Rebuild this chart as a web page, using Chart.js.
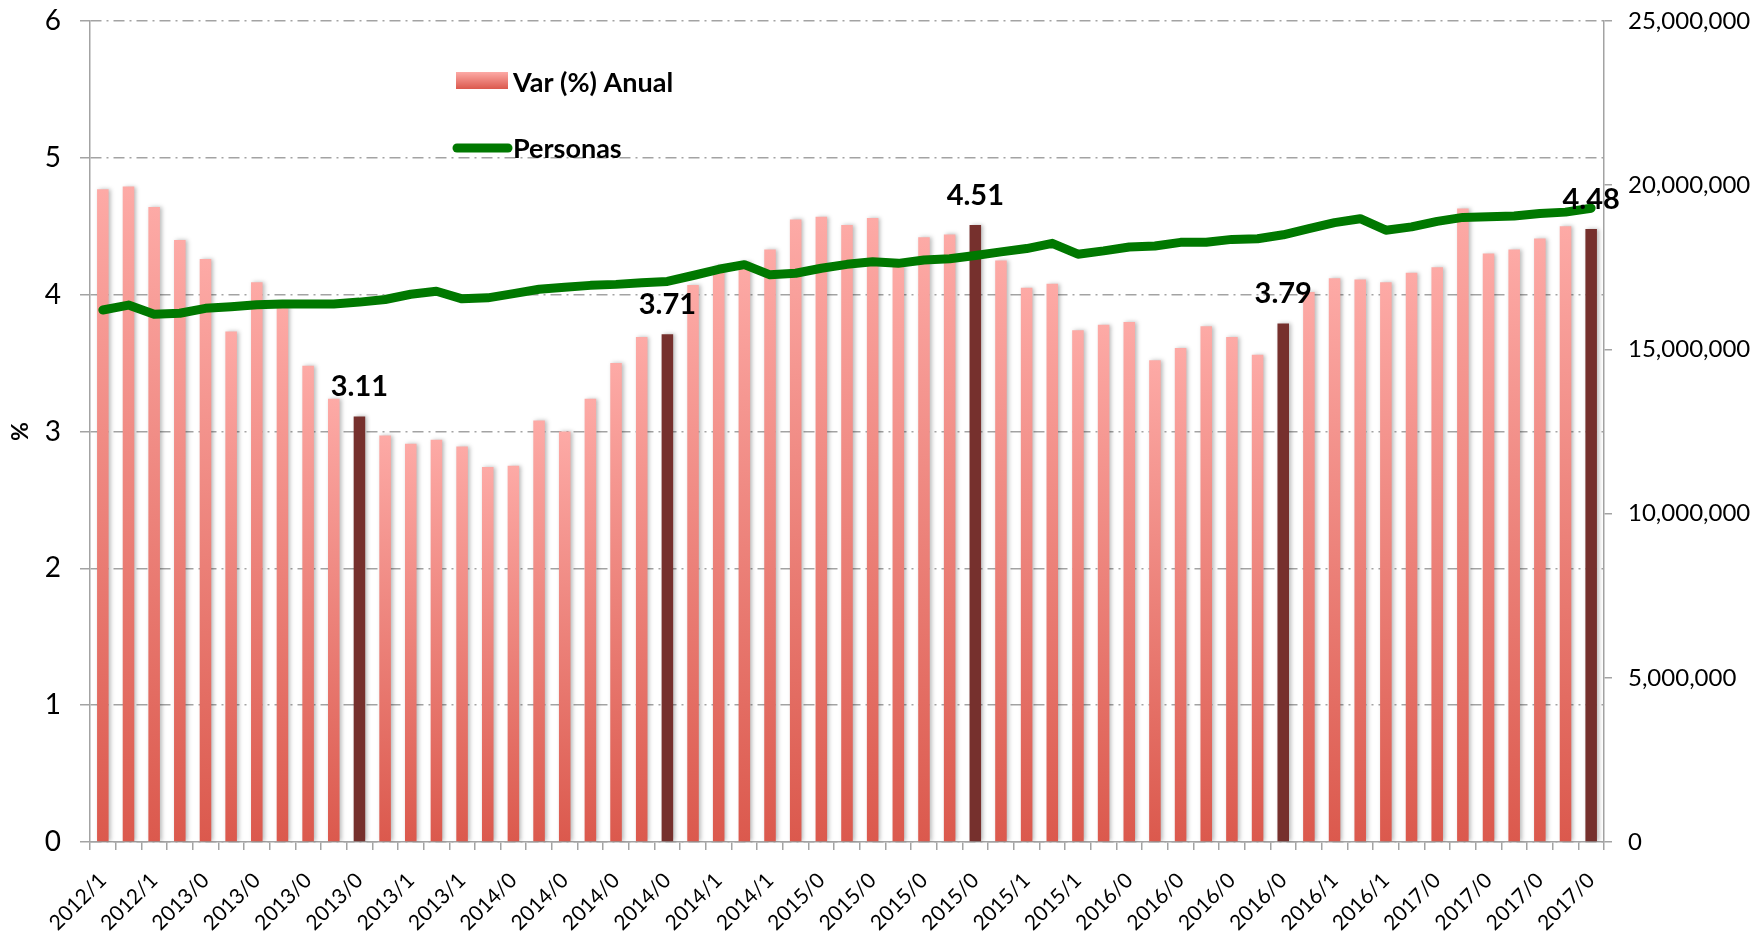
<!DOCTYPE html>
<html>
<head>
<meta charset="utf-8">
<script src="https://cdn.jsdelivr.net/npm/chart.js@4"></script>
<style>
  html, body { margin: 0; padding: 0; background: #ffffff; }
  #wrap { width: 1756px; height: 936px; position: relative; }
</style>
</head>
<body>
<div id="wrap"><canvas id="c"></canvas></div>
<script>
// ---- Data ----
const categories = [
  "2012/10","2012/11","2012/12",
  "2013/01","2013/02","2013/03","2013/04","2013/05","2013/06","2013/07","2013/08","2013/09","2013/10","2013/11","2013/12",
  "2014/01","2014/02","2014/03","2014/04","2014/05","2014/06","2014/07","2014/08","2014/09","2014/10","2014/11","2014/12",
  "2015/01","2015/02","2015/03","2015/04","2015/05","2015/06","2015/07","2015/08","2015/09","2015/10","2015/11","2015/12",
  "2016/01","2016/02","2016/03","2016/04","2016/05","2016/06","2016/07","2016/08","2016/09","2016/10","2016/11","2016/12",
  "2017/01","2017/02","2017/03","2017/04","2017/05","2017/06","2017/07","2017/08"
];
const varAnual = [
  4.77, 4.79, 4.64,
  4.40, 4.26, 3.73, 4.09, 3.92, 3.48, 3.24, 3.11, 2.97, 2.91, 2.94, 2.89,
  2.74, 2.75, 3.08, 3.00, 3.24, 3.50, 3.69, 3.71, 4.07, 4.21, 4.24, 4.33,
  4.55, 4.57, 4.51, 4.56, 4.22, 4.42, 4.44, 4.51, 4.25, 4.05, 4.08, 3.74,
  3.78, 3.80, 3.52, 3.61, 3.77, 3.69, 3.56, 3.79, 4.02, 4.12, 4.11, 4.09,
  4.16, 4.20, 4.63, 4.30, 4.33, 4.41, 4.50, 4.48
];
const personas = [
  16200000, 16350000, 16070000,
  16100000, 16250000, 16300000, 16360000, 16380000, 16380000, 16380000, 16440000, 16520000, 16680000, 16770000, 16540000,
  16570000, 16700000, 16830000, 16890000, 16950000, 16980000, 17030000, 17070000, 17250000, 17440000, 17580000, 17270000,
  17320000, 17470000, 17590000, 17670000, 17620000, 17720000, 17760000, 17860000, 17970000, 18070000, 18230000, 17900000,
  18000000, 18120000, 18150000, 18260000, 18260000, 18350000, 18370000, 18490000, 18680000, 18860000, 18980000, 18630000,
  18730000, 18900000, 19020000, 19040000, 19060000, 19140000, 19180000, 19300000
];
const leftTicks = [0, 1, 2, 3, 4, 5, 6];
const rightTicks = [0, 5000000, 10000000, 15000000, 20000000, 25000000];
const highlightMonth = "/08";   // bars shown dark and labelled

// ---- Styles ----
const FONT = "Lato, 'Open Sans', sans-serif";
const PINK_TOP = "#FDAAA6";
const PINK_BOTTOM = "#DB594D";
const DARK = "#76302D";
const GREEN = "#007800";
const GRID = "#A3A3A3";

const isHighlight = (i) => categories[i] && categories[i].endsWith(highlightMonth);

function barFill(ctx) {
  const chart = ctx.chart;
  const i = ctx.dataIndex;
  if (i !== undefined && isHighlight(i)) return DARK;
  if (!chart.chartArea || i === undefined) return PINK_BOTTOM;
  const ys = chart.scales.y;
  const top = ys.getPixelForValue(varAnual[i]);
  const bottom = ys.getPixelForValue(0);
  const g = chart.ctx.createLinearGradient(0, top, 0, bottom);
  g.addColorStop(0, PINK_TOP);
  g.addColorStop(1, PINK_BOTTOM);
  return g;
}

const barShadow = {
  id: 'barShadow',
  beforeDatasetDraw(chart, args) {
    if (chart.data.datasets[args.index].type !== 'bar') return;
    const c = chart.ctx;
    c.save();
    c.shadowColor = 'rgba(0,0,0,0.28)';
    c.shadowBlur = 4;
    c.shadowOffsetX = 2;
    c.shadowOffsetY = 0;
  },
  afterDatasetDraw(chart, args) {
    if (chart.data.datasets[args.index].type !== 'bar') return;
    chart.ctx.restore();
  }
};

const valueLabels = {
  id: 'valueLabels',
  afterDatasetsDraw(chart) {
    const idx = chart.data.datasets.findIndex(d => d.type === 'bar');
    const meta = chart.getDatasetMeta(idx);
    const c = chart.ctx;
    c.save();
    c.font = "bold 29px " + FONT;
    c.fillStyle = "#000";
    c.textAlign = "center";
    c.textBaseline = "alphabetic";
    meta.data.forEach((bar, i) => {
      if (!isHighlight(i)) return;
      c.fillText(varAnual[i].toFixed(2), bar.x, bar.y - 20);
    });
    c.restore();
  }
};

const insideLegend = {
  id: 'insideLegend',
  afterDraw(chart) {
    const a = chart.chartArea;
    const c = chart.ctx;
    c.save();
    // bar swatch
    const rx = a.left + 366, ry = a.top + 51, rw = 52, rh = 17;
    const g = c.createLinearGradient(0, ry, 0, ry + rh);
    g.addColorStop(0, PINK_TOP);
    g.addColorStop(1, PINK_BOTTOM);
    c.fillStyle = g;
    c.fillRect(rx, ry, rw, rh);
    // line swatch
    c.strokeStyle = GREEN;
    c.lineWidth = 9;
    c.lineCap = 'round';
    c.beginPath();
    c.moveTo(a.left + 367, a.top + 127);
    c.lineTo(a.left + 418, a.top + 127);
    c.stroke();
    // texts
    c.font = "bold 27px " + FONT;
    c.fillStyle = "#000";
    c.textAlign = "left";
    c.textBaseline = "middle";
    c.fillText(chart.data.datasets[1].label, a.left + 423, a.top + 62);
    c.fillText(chart.data.datasets[0].label, a.left + 423, a.top + 128);
    c.restore();
  }
};

new Chart(document.getElementById('c'), {
  data: {
    labels: categories,
    datasets: [
      {
        type: 'line',
        label: 'Personas',
        data: personas,
        yAxisID: 'y1',
        borderColor: GREEN,
        backgroundColor: GREEN,
        borderWidth: 9,
        pointRadius: 0,
        tension: 0,
        borderCapStyle: 'round',
        borderJoinStyle: 'round',
        order: 0
      },
      {
        type: 'bar',
        label: 'Var (%) Anual',
        data: varAnual,
        yAxisID: 'y',
        backgroundColor: barFill,
        borderWidth: 0,
        barPercentage: 0.45,
        categoryPercentage: 1.0,
        order: 1
      }
    ]
  },
  options: {
    responsive: true,
    maintainAspectRatio: false,
    animation: false,
    layout: { padding: { top: 21, left: 0, right: 0, bottom: 0 } },
    plugins: { legend: { display: false }, tooltip: { enabled: false } },
    scales: {
      x: {
        type: 'category',
        offset: true,
        grid: { offset: true, drawOnChartArea: false, drawTicks: true, tickLength: 8, color: GRID, lineWidth: 1.5 },
        border: { display: true, color: GRID, width: 1.5 },
        ticks: {
          autoSkip: false, maxRotation: 45, minRotation: 45, padding: 18,
          color: '#000', font: { family: FONT, size: 21 },
          callback: (v, i) => (i % 2 === 0 ? categories[i].slice(0, 6) : '')
        },
        afterFit: (s) => { s.height = 94; s.paddingLeft = 0; s.paddingRight = 0; }
      },
      y: {
        position: 'left',
        min: 0, max: 6,
        afterBuildTicks: (s) => { s.ticks = leftTicks.map(v => ({ value: v })); },
        grid: { color: GRID, lineWidth: 1.5, drawTicks: true, tickLength: 10, tickBorderDash: [] , tickColor: GRID, tickWidth: 1.5 },
        border: { display: true, color: GRID, width: 1.5, dash: [11, 5, 2, 5] },
        ticks: { color: '#000', font: { family: FONT, size: 28 }, padding: 19 },
        title: { display: true, text: '%', color: '#000', font: { family: FONT, size: 23, weight: 'bold' }, padding: { top: 7, bottom: 0 } },
        afterFit: (s) => { s.width = 90; s.paddingTop = 0; s.paddingBottom = 0; }
      },
      y1: {
        position: 'right',
        min: 0, max: 25000000,
        afterBuildTicks: (s) => { s.ticks = rightTicks.map(v => ({ value: v })); },
        grid: { drawOnChartArea: false, drawTicks: true, tickLength: 8, color: GRID, lineWidth: 1.5 },
        border: { display: true, color: GRID, width: 1.5 },
        ticks: {
          color: '#000', font: { family: FONT, size: 24 }, padding: 16,
          callback: (v) => Number(v).toLocaleString('en-US')
        },
        afterFit: (s) => { s.width = 152; s.paddingTop = 0; s.paddingBottom = 0; }
      }
    }
  },
  plugins: [barShadow, valueLabels, insideLegend]
});
</script>
</body>
</html>
